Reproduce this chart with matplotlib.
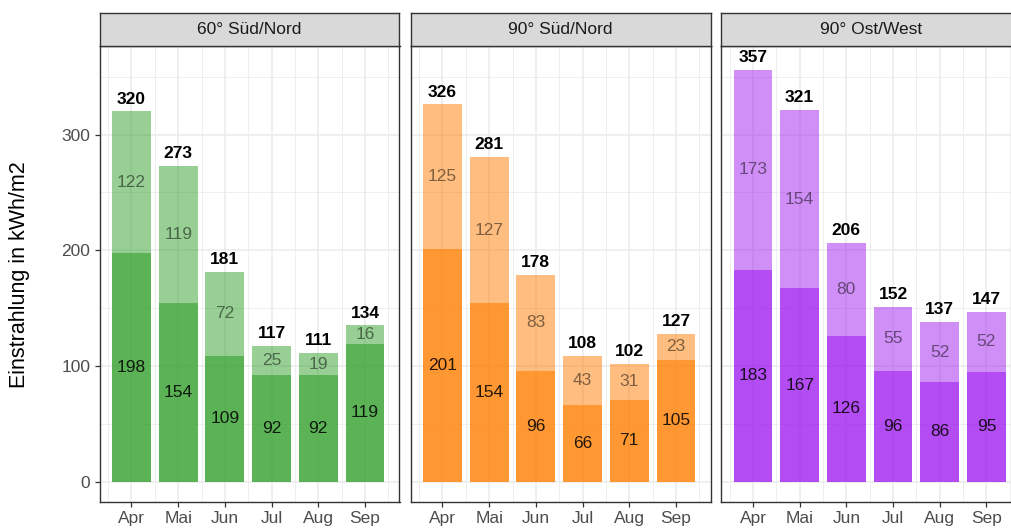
import matplotlib
matplotlib.use("Agg")
import matplotlib.pyplot as plt
import numpy as np
from matplotlib.ticker import MultipleLocator

plt.rcParams['font.family'] = ['Liberation Sans', 'DejaVu Sans']

# data
months = ['Apr', 'Mai', 'Jun', 'Jul', 'Aug', 'Sep']
panels = ['60° Süd/Nord', '90° Süd/Nord', '90° Ost/West']

lower_60sn = [198, 154, 109, 92, 92, 119]
upper_60sn = [122, 119, 72, 25, 19, 16]
total_60sn = [320, 273, 181, 117, 111, 134]

lower_90sn = [201, 154, 96, 66, 71, 105]
upper_90sn = [125, 127, 83, 43, 31, 23]
total_90sn = [326, 281, 178, 108, 102, 127]

lower_90ow = [183, 167, 126, 96, 86, 95]
upper_90ow = [173, 154, 80, 55, 52, 52]
total_90ow = [357, 321, 206, 152, 137, 147]

lowers = [lower_60sn, lower_90sn, lower_90ow]
uppers = [upper_60sn, upper_90sn, upper_90ow]
totals = [total_60sn, total_90sn, total_90ow]
colors = ['#33a02c', '#ff7f00', '#a020f0']

W, H = 1011, 529
fig = plt.figure(figsize=(W / 100, H / 100), dpi=100)

x = np.arange(1, len(months) + 1)
panel_left = [99.5, 410.5, 721]
panel_w = 300
panel_top, panel_bot, strip_top = 45.7, 501.7, 13.3
fs = 12.5

for i in range(3):
    ax = fig.add_axes([panel_left[i] / W, (H - panel_bot) / H,
                       panel_w / W, (panel_bot - panel_top) / H])
    ax.set_axisbelow(True)
    ax.set_xlim(0.315, 6.74)
    ax.set_ylim(-17.3, 376.8)
    ax.yaxis.set_major_locator(MultipleLocator(100))
    ax.yaxis.set_minor_locator(MultipleLocator(50))
    ax.set_xticks(x)
    ax.set_xticks(np.r_[x - 0.5, x[-1] + 0.5], minor=True)
    ax.grid(which='major', color='#ebebeb', linewidth=1.1)
    ax.grid(which='minor', color='#ebebeb', linewidth=0.55)
    ax.tick_params(which='minor', length=0)
    ax.tick_params(which='major', length=3.6, width=0.9, color='#333333',
                   labelcolor='#4d4d4d', labelsize=fs, pad=3)
    ax.set_xticklabels(months)
    for s in ax.spines.values():
        s.set_color('#333333')
        s.set_linewidth(1.0)

    lo = lowers[i]
    up = uppers[i]
    ax.bar(x, lo, width=0.83, color=colors[i], alpha=0.8, linewidth=0)
    ax.bar(x, up, width=0.83, bottom=lo, color=colors[i], alpha=0.5, linewidth=0)
    for j in range(len(months)):
        ax.text(x[j], lo[j] / 2, str(lo[j]), ha='center', va='center',
                fontsize=fs, color='black', alpha=0.85)
        ax.text(x[j], lo[j] + up[j] / 2, str(up[j]), ha='center', va='center',
                fontsize=fs, color='black', alpha=0.5)
        ax.annotate(str(totals[i][j]), (x[j], lo[j] + up[j]), xytext=(0, 3.5),
                    textcoords='offset points', ha='center', va='bottom',
                    fontsize=fs, fontweight='bold', color='black')
    if i > 0:
        ax.set_yticklabels([])
        ax.tick_params(axis='y', which='major', length=0)

    # facet strip
    sax = fig.add_axes([panel_left[i] / W, (H - panel_top) / H,
                        panel_w / W, (panel_top - strip_top) / H])
    sax.set_facecolor('#d9d9d9')
    sax.set_xticks([])
    sax.set_yticks([])
    for s in sax.spines.values():
        s.set_color('#333333')
        s.set_linewidth(1.0)
    sax.text(0.5, 0.5, panels[i], ha='center', va='center',
             fontsize=fs, color='#1a1a1a', transform=sax.transAxes)

fig.text(20 / W, 1 - 275 / H, 'Einstrahlung in kWh/m2', rotation=90,
         ha='center', va='center', fontsize=15.5)

fig.savefig('out.png', dpi=100)
